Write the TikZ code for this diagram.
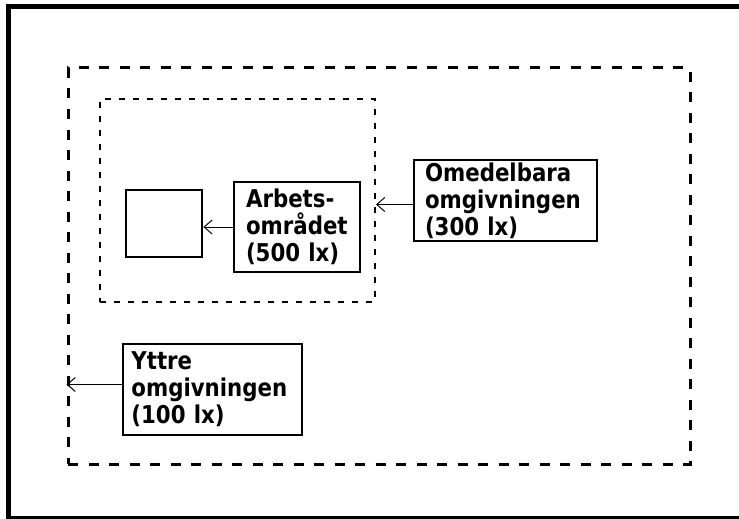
\documentclass[tikz,border=0pt]{standalone}
\usepackage{fontspec}
\setmainfont{DejaVu Sans}
\newfontfamily\lblfont[FakeStretch=0.87]{DejaVu Sans}
\usetikzlibrary{arrows.meta}
\begin{document}
\begin{tikzpicture}[x=1pt,y=-1pt,
  lbl/.style={draw, line width=1.2pt, font=\lblfont\fontsize{24.5pt}{27pt}\selectfont\bfseries, align=left, inner ysep=0pt},
  zone/.style={draw, inner sep=0pt},
  conn/.style={line width=1pt, -{Straight Barb[length=8pt,width=14pt]}}]
\useasboundingbox (0,0) rectangle (739,519);
\clip (0,0) rectangle (739,519);
\draw[line width=5pt] (8.5,6.5) rectangle (745,518);
\node[zone, line width=3pt, dash pattern=on 10pt off 10.5pt, minimum width=622pt, minimum height=396pt] (outer) at (379,266) {};
\node[zone, line width=2pt, dash pattern=on 6pt off 8pt, minimum width=275pt, minimum height=203pt] (inner) at (237.5,200.5) {};
\node[zone, line width=2.8pt, minimum width=76pt, minimum height=67pt] (sq) at (164,223.5) {};
\node[lbl, inner xsep=12pt, text width=102pt, minimum height=90pt] (arb) at (297,227) {Arbets-\\området\\(500 lx)};
\node[lbl, inner xsep=11pt, text width=161pt, minimum height=81pt] (omed) at (505.5,200.5) {Omedelbara\\omgivningen\\(300 lx)};
\node[lbl, inner xsep=8.4pt, text width=162.2pt, minimum height=91pt] (ytt) at (212.5,389.5) {Yttre\\omgivningen\\(100 lx)};
\draw[conn] (arb.west) -- (arb.west -| sq.east);
\draw[conn] ([yshift=-4pt]omed.west) -- ([yshift=-4pt]omed.west -| inner.east);
\draw[conn] ([yshift=5pt]ytt.west) -- ([yshift=5pt]ytt.west -| outer.west);
\end{tikzpicture}
\end{document}
